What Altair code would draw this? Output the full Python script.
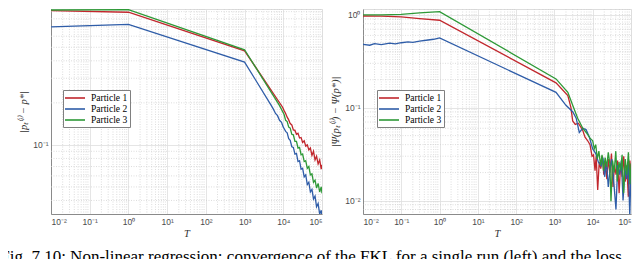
import altair as alt
import pandas as pd

SERIES = ["Particle 1", "Particle 2", "Particle 3"]
COLORS = ["#C1272D", "#2F5DA8", "#2E9937"]

# ---------------- left panel : |p_t^(i) - p*| ----------------
L1_T = [0.01, 1, 1000, 9600, 10500, 11500, 12600, 13800, 15100, 16600, 18200, 20000, 21900, 24000,
        26300, 28800, 31600, 34700, 38000, 41700, 45700, 50100, 55000, 60300, 66100, 72400, 79400,
        87100, 95500, 100000]
L1_V = [0.914, 0.891, 0.472, 0.186, 0.176, 0.168, 0.158, 0.151, 0.142, 0.139, 0.128, 0.127, 0.119, 0.121,
        0.112, 0.113, 0.104, 0.107, 0.098, 0.100, 0.092, 0.095, 0.084, 0.090, 0.078, 0.083, 0.073,
        0.078, 0.067, 0.072]

L2_T = [0.01, 1, 1000, 4870, 5500, 6300, 7100, 8000, 9000, 10000, 10500, 11500, 12600, 13800, 15100,
        16600, 18200, 20000, 21900, 24000, 26300, 28800, 31600, 34700, 38000, 41700, 45700, 50100,
        55000, 60300, 66100, 72400, 79400, 87100, 95500, 100000]
L2_V = [0.70, 0.73, 0.392, 0.192, 0.181, 0.168, 0.162, 0.150, 0.145, 0.134, 0.131, 0.125, 0.122, 0.111, 0.108,
        0.097, 0.096, 0.086, 0.087, 0.076, 0.077, 0.067, 0.068, 0.059, 0.061, 0.052, 0.054, 0.046,
        0.048, 0.041, 0.043, 0.036, 0.038, 0.032, 0.034, 0.030]

L3_T = [0.01, 1, 1000, 7950, 10500, 11500, 12600, 13800, 15100, 16600, 18200, 20000, 21900, 24000,
        26300, 28800, 31600, 34700, 38000, 41700, 45700, 50100, 55000, 60300, 66100, 72400, 79400,
        87100, 95500, 100000]
L3_V = [0.925, 0.93, 0.48, 0.192, 0.165, 0.150, 0.147, 0.134, 0.132, 0.119, 0.118, 0.106, 0.106, 0.095,
        0.096, 0.085, 0.086, 0.076, 0.077, 0.068, 0.070, 0.061, 0.062, 0.054, 0.056, 0.049, 0.053,
        0.046, 0.050, 0.045]

# ---------------- right panel : |Psi(p_t^(i)) - Psi(p*)| ----------------
R1_T = [0.01, 0.03, 0.1, 0.3, 1, 1100, 2240, 2700, 3000, 3500, 4200, 5400, 6300, 7400, 8500, 9600,
        10500, 11500, 12300, 13500, 14800, 16200, 17800, 19500, 21400, 23400, 25700, 28100, 30900,
        33900, 37100, 40700, 44700, 49000, 53700, 58900, 64600, 70800, 77600, 85100, 93300, 100000]
R1_V = [0.97, 0.965, 0.95, 0.91, 0.873, 0.185, 0.135, 0.10, 0.072, 0.066, 0.068, 0.058, 0.048, 0.044, 0.040, 0.030,
        0.031, 0.021, 0.030, 0.013, 0.026, 0.022, 0.030, 0.019, 0.026, 0.017, 0.028, 0.020, 0.032,
        0.014, 0.024, 0.019, 0.027, 0.012, 0.025, 0.018, 0.030, 0.016, 0.024, 0.011, 0.027, 0.020]

R2_T = [0.01, 0.015, 0.02, 0.03, 0.05, 0.07, 0.1, 0.15, 0.2, 0.3, 0.5, 0.7, 1, 1100, 2000, 3000, 3700,
        4460, 5500, 6700, 8200, 10000, 12000, 14000, 16600, 18500, 20500, 23000, 25500, 28500, 31500,
        35000, 40500, 45000, 50000, 56000, 62000, 69000, 77000, 85000, 93000, 100000]
R2_V = [0.481, 0.47, 0.49, 0.478, 0.495, 0.485, 0.50, 0.51, 0.505, 0.52, 0.535, 0.545, 0.564, 0.146, 0.106, 0.0905, 0.077,
        0.054, 0.060, 0.058, 0.048, 0.036, 0.032, 0.026, 0.0236, 0.029, 0.018, 0.026, 0.014, 0.022, 0.028,
        0.017, 0.0080, 0.024, 0.019, 0.027, 0.010, 0.022, 0.017, 0.025, 0.0068, 0.021]

R3_T = [0.01, 0.03, 0.1, 0.3, 1, 1100, 2240, 3000, 4050, 5500, 7000, 8500, 10000, 11000, 12000, 13200,
        14500, 16000, 17500, 19200, 21100, 23200, 25500, 28000, 30000, 33000, 36300, 40000, 44000,
        48400, 53200, 58500, 64300, 70700, 77700, 85500, 94000, 100000]
R3_V = [1.0, 1.0, 1.01, 1.05, 1.08, 0.204, 0.146, 0.106, 0.077, 0.060, 0.053, 0.047, 0.044, 0.036, 0.040, 0.028,
        0.034, 0.024, 0.031, 0.021, 0.029, 0.023, 0.033, 0.025, 0.0098, 0.027, 0.020, 0.034, 0.016,
        0.026, 0.021, 0.031, 0.012, 0.028, 0.019, 0.033, 0.015, 0.025]

# ---------------- axes ----------------
X_DOMAIN = [0.01, 100000]
X_TICKS = [0.01, 0.1, 1, 10, 100, 1000, 10000, 100000]
X_MINOR = [k * 10.0 ** e for e in range(-2, 5) for k in range(2, 10)]
LY_DOMAIN = [0.032, 0.94]
LY_TICKS = [0.1]
LY_MINOR = [0.04, 0.05, 0.06, 0.07, 0.08, 0.09, 0.2, 0.3, 0.4, 0.5, 0.6, 0.7, 0.8, 0.9]
RY_DOMAIN = [0.00716, 1.154]
RY_TICKS = [0.01, 0.1, 1]
RY_MINOR = [0.008, 0.009, 0.02, 0.03, 0.04, 0.05, 0.06, 0.07, 0.08, 0.09,
            0.2, 0.3, 0.4, 0.5, 0.6, 0.7, 0.8, 0.9]

CAPTION = "Fig. 7.10:  Non-linear regression: convergence of the FKL for a single run (left) and the loss"

SUP = "'10' + ['\u207b\u00b2','\u207b\u00b9','\u2070','\u00b9','\u00b2','\u00b3','\u2074','\u2075'][round(log(datum.value)/LN10)+2]"

LABEL_FONT = "Liberation Sans"
SERIF = "Liberation Serif"


def frame(T, V, name):
    return pd.DataFrame({"T": T, "v": V, "series": name})


def panel(frames, ydomain, yticks, yminor, ytitle, width, leg_x, leg_y):
    df = pd.concat(frames, ignore_index=True)
    xs = alt.Scale(type="log", domain=X_DOMAIN, nice=False)
    ys = alt.Scale(type="log", domain=ydomain, nice=False)
    common = dict(labelExpr=SUP, grid=True, gridColor="#dedede", gridWidth=0.8, ticks=False,
                  domainColor="#8a8a8a", domainWidth=1, labelFont=LABEL_FONT, labelFontSize=8.5,
                  labelColor="#4a4a4a", labelPadding=3, titleFont=SERIF, titleFontSize=10.5,
                  titleFontStyle="italic", titleFontWeight="normal", titleColor="#333333")
    x_axis = alt.Axis(values=X_TICKS, title="T", titlePadding=3, **common)
    y_axis = alt.Axis(values=yticks, title=ytitle, titlePadding=4, **common)
    vminor = alt.Chart(pd.DataFrame({"g": X_MINOR})).mark_rule(
        color="#cfcfcf", strokeDash=[1, 1.5], strokeWidth=0.7
    ).encode(x=alt.X("g:Q", scale=xs, axis=x_axis))
    hminor = alt.Chart(pd.DataFrame({"g": yminor})).mark_rule(
        color="#cfcfcf", strokeDash=[1, 1.5], strokeWidth=0.7
    ).encode(y=alt.Y("g:Q", scale=ys, axis=y_axis))
    lines = alt.Chart(df).mark_line(strokeWidth=1.3, clip=True).encode(
        x=alt.X("T:Q", scale=xs, axis=x_axis),
        y=alt.Y("v:Q", scale=ys, axis=y_axis),
        color=alt.Color("series:N", scale=alt.Scale(domain=SERIES, range=COLORS),
                        legend=alt.Legend(orient="none", legendX=leg_x, legendY=leg_y, title=None,
                                          symbolType="M-2,0H2", symbolSize=100, symbolStrokeWidth=1.6,
                                          symbolOffset=4, labelOffset=10, labelFont=SERIF,
                                          labelFontSize=9.5, labelColor="black", rowPadding=0,
                                          strokeColor="#808080", fillColor="white", padding=2,
                                          cornerRadius=0)),
    )
    return alt.layer(vminor, hminor, lines).properties(width=width, height=205)


left = panel([frame(L1_T, L1_V, SERIES[0]), frame(L2_T, L2_V, SERIES[1]), frame(L3_T, L3_V, SERIES[2])],
             LY_DOMAIN, LY_TICKS, LY_MINOR, "|p\u209c\u207d\u2071\u207e \u2212 p*|", 271, 12, 81)
right = panel([frame(R1_T, R1_V, SERIES[0]), frame(R2_T, R2_V, SERIES[1]), frame(R3_T, R3_V, SERIES[2])],
              RY_DOMAIN, RY_TICKS, RY_MINOR, "|\u03a8(p\u209c\u207d\u2071\u207e) \u2212 \u03a8(p*)|", 268, 14, 81)

chart = alt.hconcat(left, right, spacing=41, bounds="flush").resolve_scale(
    color="independent").resolve_legend(color="independent").properties(
    title=alt.TitleParams(CAPTION, orient="bottom", anchor="start", font=SERIF, fontSize=17,
                          fontWeight="normal", color="black", offset=9, dx=-18),
    padding={"left": -8, "top": 0, "right": 0, "bottom": -6},
).configure_view(stroke=None).configure(background="white")

chart.save("out.html", embed_options={"renderer": "svg", "actions": False})
